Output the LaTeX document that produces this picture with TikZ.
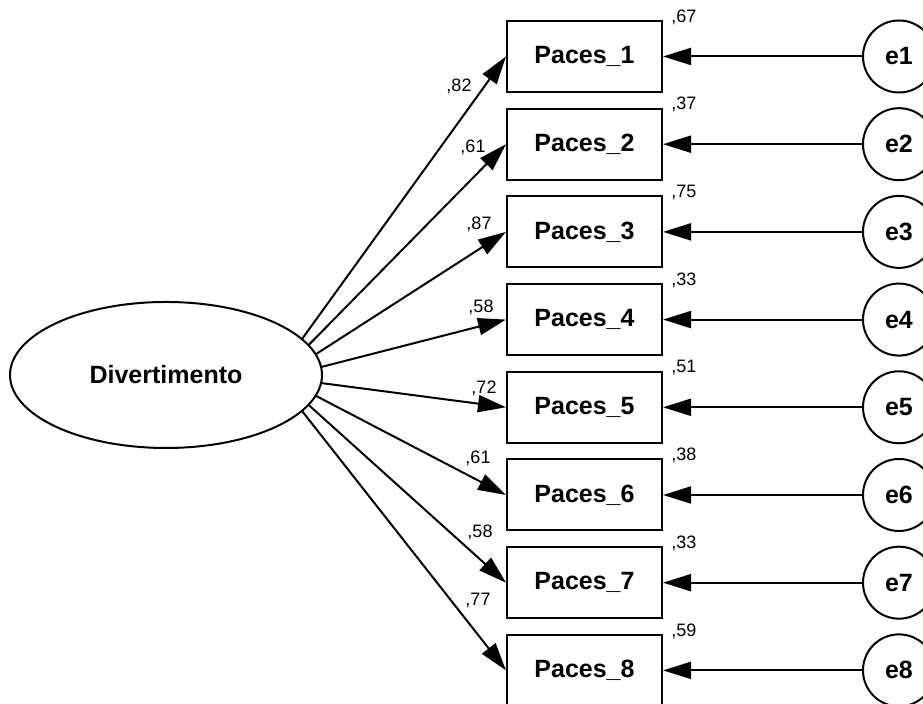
\documentclass[tikz,border=0pt]{standalone}
\usepackage{fontspec}
\setmainfont{Liberation Sans}
\usetikzlibrary{calc, positioning}
\usetikzlibrary{shapes.geometric}
\usetikzlibrary{arrows.meta}

\begin{document}
\begin{tikzpicture}[x=0.5pt,y=0.5pt,
  latent/.style={ellipse,draw,line width=1pt,minimum width=156pt,minimum height=73pt,inner sep=0pt,font=\fontsize{12.5}{15}\selectfont\bfseries},
  observed/.style={rectangle,draw,line width=1pt,minimum width=77.5pt,minimum height=35.5pt,inner sep=0pt,font=\fontsize{12.5}{15}\selectfont\bfseries},
  errvar/.style={circle,draw,line width=1pt,minimum size=36pt,inner sep=0pt,font=\fontsize{12.5}{15}\selectfont\bfseries},
  loading/.style={line width=1pt,-{Triangle[length=14pt,width=8.5pt]}},
  coef/.style={font=\fontsize{9}{11}\selectfont,inner sep=0pt}]
\clip (0,0) rectangle (923,704);

\node[latent] (div) at (166,329) {Divertimento};

\foreach \i/\load/\rsq/\lx/\ly/\ang in {1/82/67/-47/-30/15, 2/61/37/-33/-3/12,
    3/87/75/-27/8/8, 4/58/33/-25/12/3, 5/72/51/-22/19/-3, 6/61/38/-28/37/-8,
    7/58/33/-26/50/-12, 8/77/59/-28/70/-15} {
  \node[observed] (p\i) at (584.5,{647.5-87.7*(\i-1)}) {Paces\_\i};
  \node[errvar] (e\i) at (899,{647.5-87.7*(\i-1)}) {e\i};
  \draw[loading] (div.\ang) -- (p\i.west);
  \draw[loading] (e\i) -- (p\i);
  \node[coef] at ($(p\i.west)+(\lx,\ly)$) {,\load};
  \node[coef,anchor=west] at ($(p\i.north east)+(8,3)$) {,\rsq};
}
\end{tikzpicture}
\end{document}
